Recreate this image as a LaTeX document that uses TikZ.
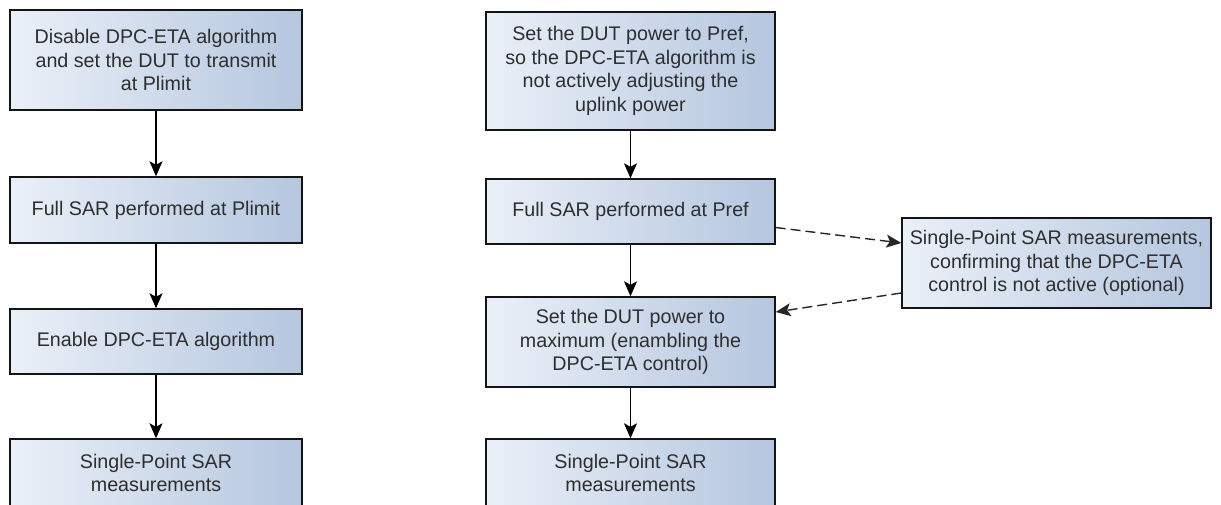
\documentclass[tikz,border=0pt]{standalone}
\usepackage{fontspec}
\setmainfont{Liberation Sans}
\usetikzlibrary{arrows.meta}
\definecolor{boxleft}{HTML}{EAF0F8}
\definecolor{boxright}{HTML}{B5C6DF}
\definecolor{boxdraw}{HTML}{141414}
\tikzset{
  flowbox/.style={draw=boxdraw, line width=1.4pt, left color=boxleft, right color=boxright,
    align=center, inner sep=0pt, font=\fontsize{19.7}{23.5}\selectfont, text=black!82},
  flowarrow/.style={draw=black, line width=1.4pt, -{Stealth[length=15pt,width=13pt,inset=3.5pt]}},
  dasharrow/.style={draw=black!85, line width=1.4pt, dash pattern=on 10pt off 5pt,
    -{Stealth[length=15pt,width=13pt,inset=3.5pt]}}
}
\begin{document}
\begin{tikzpicture}[x=1pt,y=-1pt]
\useasboundingbox (0,0) rectangle (1221,504);
% left column
\node[flowbox, minimum width=292pt, minimum height=100pt] (L1) at (156,60)
  {Disable DPC-ETA algorithm\\and set the DUT to transmit\\at Plimit};
\node[flowbox, minimum width=292pt, minimum height=66pt] (L2) at (156,210)
  {Full SAR performed at Plimit};
\node[flowbox, minimum width=292pt, minimum height=65pt] (L3) at (156,341.5)
  {Enable DPC-ETA algorithm};
\node[flowbox, minimum width=292pt, minimum height=68pt] (L4) at (156,473)
  {Single-Point SAR\\measurements};
% middle column
\node[flowbox, minimum width=289pt, minimum height=118pt] (M1) at (630.5,71)
  {Set the DUT power to Pref,\\so the DPC-ETA algorithm is\\not actively adjusting the\\uplink power};
\node[flowbox, minimum width=289pt, minimum height=65pt] (M2) at (630.5,211.5)
  {Full SAR performed at Pref};
\node[flowbox, minimum width=289pt, minimum height=90pt] (M3) at (630.5,342)
  {Set the DUT power to\\maximum (enambling the\\DPC-ETA control)};
\node[flowbox, minimum width=289pt, minimum height=68pt] (M4) at (630.5,473)
  {Single-Point SAR\\measurements};
% right box
\node[flowbox, minimum width=309pt, minimum height=90pt] (R) at (1056.5,263)
  {Single-Point SAR measurements,\\confirming that the DPC-ETA\\control is not active (optional)};
% connectors
\draw[flowarrow] (L1) -- (L2);
\draw[flowarrow] (L2) -- (L3);
\draw[flowarrow] (L3) -- (L4);
\draw[flowarrow] (M1) -- (M2);
\draw[flowarrow] (M2) -- (M3);
\draw[flowarrow] (M3) -- (M4);
\draw[dasharrow] ([yshift=-16pt]M2.east) -- ([yshift=20pt]R.west);
\draw[dasharrow] ([yshift=-30pt]R.west) -- ([yshift=30pt]M3.east);
\end{tikzpicture}
\end{document}
